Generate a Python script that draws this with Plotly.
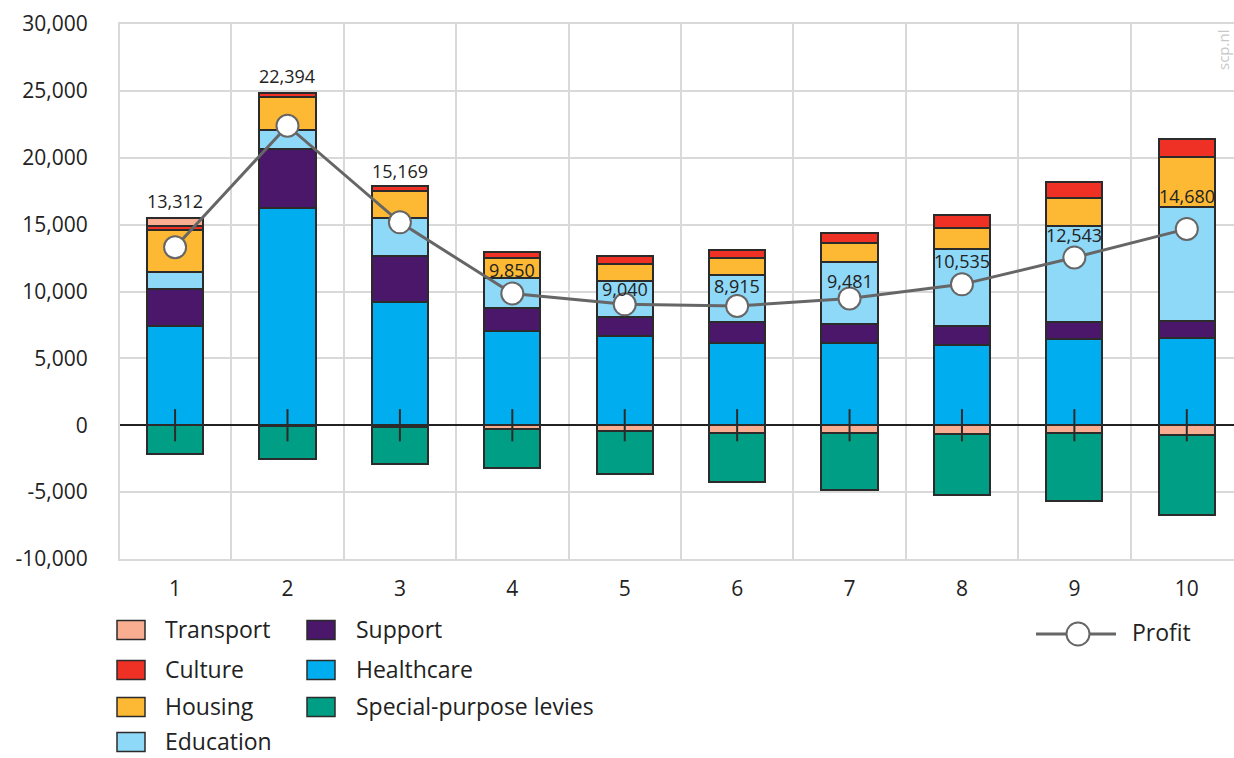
import plotly.graph_objects as go

# Income deciles
deciles = [1, 2, 3, 4, 5, 6, 7, 8, 9, 10]
decile_labels = ["1", "2", "3", "4", "5", "6", "7", "8", "9", "10"]

# Components per decile (euros)
healthcare = [7430, 16230, 9180, 7030, 6680, 6180, 6130, 5980, 6430, 6560]
support = [2790, 4460, 3440, 1740, 1450, 1550, 1450, 1420, 1270, 1200]
education = [1250, 1400, 2840, 2220, 2690, 3510, 4640, 5760, 7180, 8570]
housing = [3140, 2420, 2020, 1550, 1270, 1250, 1370, 1600, 2120, 3710]
culture = [300, 350, 400, 450, 530, 620, 750, 970, 1150, 1350]
transport = [550, -50, -100, -250, -420, -570, -600, -650, -550, -700]
levies = [-2170, -2490, -2790, -2940, -3190, -3640, -4260, -4590, -5110, -6030]

# Net profit per decile
profit = [13312, 22394, 15169, 9850, 9040, 8915, 9481, 10535, 12543, 14680]

# Y axis ticks
y_tickvals = [-10000, -5000, 0, 5000, 10000, 15000, 20000, 25000, 30000]
y_ticktext = ["-10,000", "-5,000", "0", "5,000", "10,000", "15,000", "20,000", "25,000", "30,000"]

# Stacking order (bottom to top for positive values, nearest zero first for negatives)
series = [
    ("Healthcare", healthcare, "#00AEEF"),
    ("Support", support, "#4A176A"),
    ("Education", education, "#8ED8F8"),
    ("Housing", housing, "#FDB933"),
    ("Culture", culture, "#EE3124"),
    ("Transport", transport, "#F9AE92"),
    ("Special-purpose levies", levies, "#009E84"),
]

# Profit label placement: above the bar stack for the first deciles, above the marker otherwise
label_on_stack = [True, True, True, False, False, False, False, False, False, False]
label_shift = [17, 17, 15, 24, 15, 20, 17, 23, 22, 33]

FONT = "Open Sans"
TEXT = "#222222"
GRID = "#d9d9d9"
OUTLINE = "#2b2b2b"

W, H = 1234, 758
L, R, T, B = 120, 0, 24, 199
PW, PH = W - L - R, H - T - B


def px(x):
    return (x - L) / PW


def py(y):
    return (H - B - y) / PH


fig = go.Figure()

for name, vals, color in series:
    fig.add_trace(go.Bar(
        x=deciles, y=vals, name=name, width=0.5,
        marker=dict(color=color, line=dict(color=OUTLINE, width=2)),
        showlegend=False, hoverinfo="name+y",
    ))

# Category ticks crossing the zero line
fig.add_trace(go.Scatter(
    x=deciles, y=[0] * len(deciles), mode="markers",
    marker=dict(symbol="line-ns-open", size=23, color=OUTLINE,
                line=dict(color=OUTLINE, width=2)),
    showlegend=False, hoverinfo="skip",
))

fig.add_trace(go.Scatter(
    x=deciles, y=profit, name="Profit", mode="lines+markers",
    line=dict(color="#666666", width=3),
    marker=dict(size=22, color="white", line=dict(color="#666666", width=2)),
    showlegend=False,
))

annotations = []
for i, d in enumerate(deciles):
    top = sum(v for _, vals, _ in series for v in [vals[i]] if v > 0)
    anchor = top if label_on_stack[i] else profit[i]
    annotations.append(dict(
        x=d, y=anchor, xref="x", yref="y", text=f"{profit[i]:,}",
        showarrow=False, yshift=label_shift[i], yanchor="middle",
        font=dict(family=FONT, size=18, color=TEXT),
    ))

# Legend: two columns of swatches plus the profit line key
legend_cols = [
    (117, 163, ["Transport", "Culture", "Housing", "Education"]),
    (307, 354, ["Support", "Healthcare", "Special-purpose levies"]),
]
row_y = [630, 670, 707, 742]
colors = {n: c for n, _, c in series}
shapes = []
for sx, tx, names in legend_cols:
    for j, n in enumerate(names):
        cy = row_y[j]
        shapes.append(dict(
            type="rect", xref="paper", yref="paper",
            x0=px(sx), x1=px(sx + 28), y0=py(cy - 9.5), y1=py(cy + 9.5),
            fillcolor=colors[n], line=dict(color=OUTLINE, width=1.5),
        ))
        annotations.append(dict(
            x=px(tx), y=py(cy - 1), xref="paper", yref="paper", text=n,
            showarrow=False, xanchor="left", yanchor="middle",
            font=dict(family=FONT, size=23, color=TEXT),
        ))

shapes.append(dict(
    type="line", xref="paper", yref="paper",
    x0=px(1036), x1=px(1116), y0=py(634), y1=py(634),
    line=dict(color="#666666", width=3),
))
shapes.append(dict(
    type="circle", xref="paper", yref="paper",
    x0=px(1066.5), x1=px(1089.5), y0=py(622.5), y1=py(645.5),
    fillcolor="white", line=dict(color="#666666", width=2),
))
annotations.append(dict(
    x=px(1130), y=py(632), xref="paper", yref="paper", text="Profit",
    showarrow=False, xanchor="left", yanchor="middle",
    font=dict(family=FONT, size=23, color=TEXT),
))

# Source mark
annotations.append(dict(
    x=px(1223), y=py(50), xref="paper", yref="paper", text="scp.nl",
    showarrow=False, textangle=-90, xanchor="center", yanchor="middle",
    font=dict(family=FONT, size=15, color="#c8c8c8"),
))

fig.update_layout(
    width=W, height=H, autosize=False,
    margin=dict(l=L, r=R, t=T, b=B, pad=0),
    paper_bgcolor="white", plot_bgcolor="white",
    barmode="relative", bargap=0,
    font=dict(family=FONT, color=TEXT),
    annotations=annotations, shapes=shapes,
    xaxis=dict(
        range=[0.51, 10.42], tickvals=deciles, ticktext=decile_labels,
        showgrid=False, zeroline=False, ticks="", ticklabelstandoff=10,
        tickfont=dict(family=FONT, size=21, color=TEXT),
        showline=True, linecolor=GRID, linewidth=2, mirror=True,
        minor=dict(tickvals=[0.5, 1.5, 2.5, 3.5, 4.5, 5.5, 6.5, 7.5, 8.5, 9.5],
                   showgrid=True, gridcolor=GRID, gridwidth=2, ticks=""),
        fixedrange=True,
    ),
    yaxis=dict(
        range=[-10000, 30000], tickvals=y_tickvals, ticktext=y_ticktext,
        showgrid=True, gridcolor=GRID, gridwidth=2,
        zeroline=True, zerolinecolor="#222222", zerolinewidth=1.5,
        showline=True, linecolor=GRID, linewidth=2,
        ticks="", ticklabelstandoff=26,
        tickfont=dict(family=FONT, size=21, color=TEXT),
        fixedrange=True,
    ),
)

fig.write_html("out.html")
